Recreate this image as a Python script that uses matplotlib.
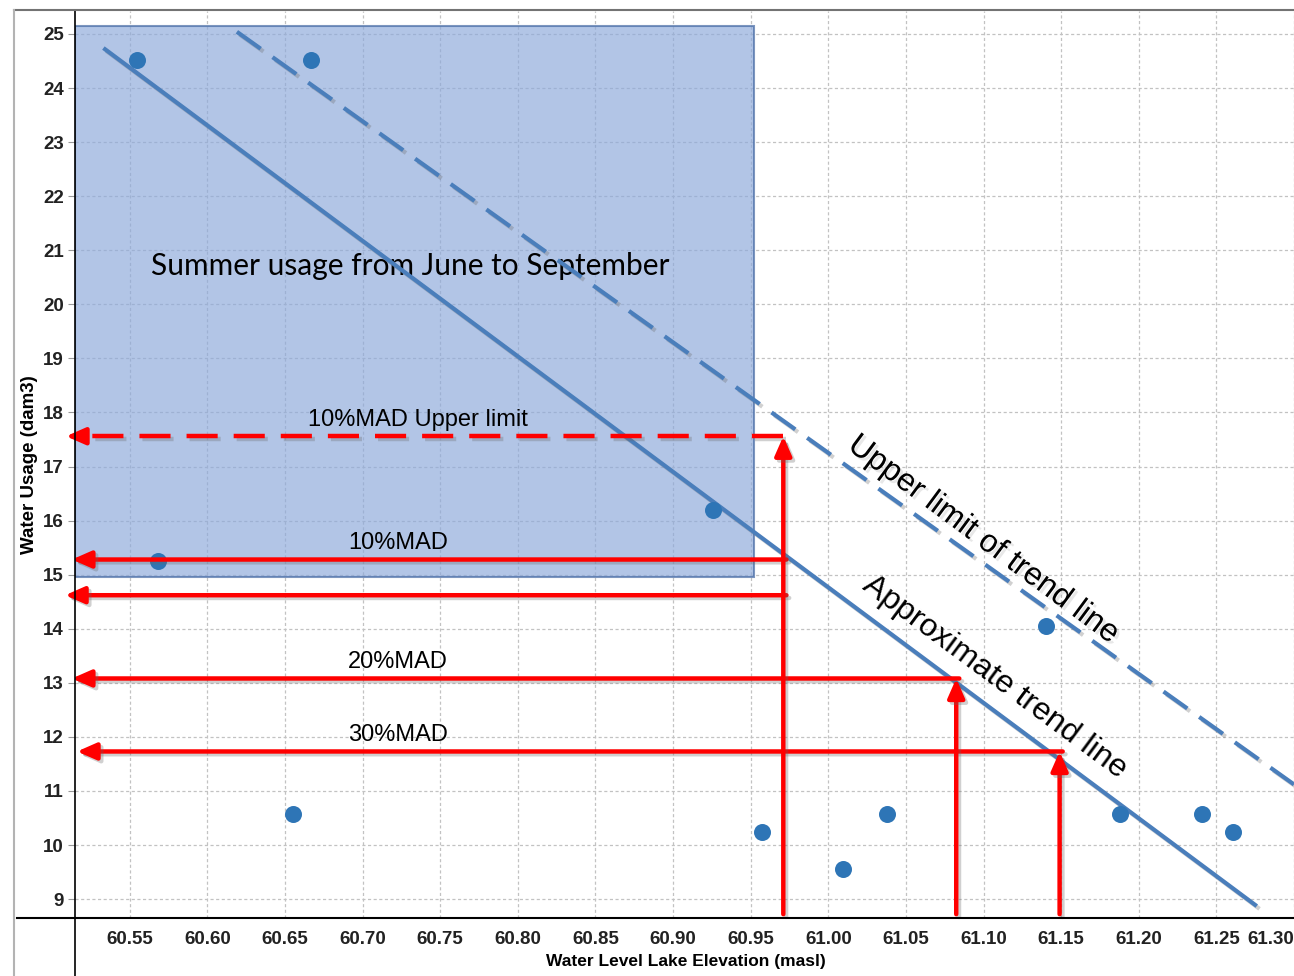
import numpy as np
import matplotlib
matplotlib.use("Agg")
import matplotlib.pyplot as plt
import matplotlib.patheffects as pe
from matplotlib.lines import Line2D
from matplotlib.patches import Rectangle

# ---- data ----
elev  = [60.5545, 60.667, 60.9255, 60.568, 60.6554, 60.957, 61.0097, 61.038, 61.140, 61.188, 61.241, 61.261]
usage = [24.52, 24.52, 16.19, 15.25, 10.57, 10.24, 9.55, 10.57, 14.05, 10.57, 10.57, 10.24]
trend_x, trend_y = [60.533, 61.276], [24.74, 8.87]          # approximate trend line
upper_x, upper_y = [60.619, 61.30], [25.04, 11.12]          # upper limit of trend line
summer_x, summer_y = [60.5147, 60.952], [14.95, 25.15]      # June-September box
mad_labels = ["10%MAD Upper limit", "10%MAD", "", "20%MAD", "30%MAD"]
mad_usage  = [17.56, 15.28, 14.62, 13.08, 11.73]
mad_elev   = [60.971, 60.971, 60.971, 61.0824, 61.149]
mad_tip    = [60.5089, 60.5127, 60.5083, 60.5127, 60.5160]
xticks = [60.55, 60.60, 60.65, 60.70, 60.75, 60.80, 60.85, 60.90, 60.95, 61.00,
          61.05, 61.10, 61.15, 61.20, 61.25, 61.30]
yticks = list(range(9, 26))

BLUE = "#4a7ebb"; DOT = "#2e75b6"; RED = "#ff0000"
ARIAL = ["Liberation Sans", "DejaVu Sans"]
shadow = [pe.SimpleLineShadow(offset=(2, -2), shadow_color="0.4", alpha=0.3), pe.Normal()]

fig = plt.figure(figsize=(12.94, 9.76), dpi=100)
ax = fig.add_axes([75/1294, 58/976, 1 - 75/1294, (918 - 11)/976])
ax.set_xlim(60.5147, 61.298); ax.set_ylim(8.65, 25.425)

ax.set_xticks(xticks); ax.set_yticks(yticks)
ax.set_xticklabels([f"{v:.2f}" for v in xticks], fontsize=13.5, fontweight="bold", color="#222222", family=ARIAL)
ax.set_yticklabels([str(v) for v in yticks], fontsize=13.5, fontweight="bold", color="#222222", family=ARIAL)
ax.get_xticklabels()[-1].set_horizontalalignment("right")
ax.tick_params(axis="x", length=0, pad=9)
ax.tick_params(axis="y", length=5, color="0.6", pad=3)
ax.grid(True, ls=(0, (2.5, 2)), color="0.76", lw=0.9, zorder=0)
for s in ax.spines.values():
    s.set_visible(False)
ax.set_axisbelow(True)

ax.set_xlabel("Water Level Lake Elevation (masl)", fontsize=12.5, fontweight="bold", family=ARIAL)
ax.set_ylabel("Water Usage (dam3)", fontsize=13.5, fontweight="bold", family=ARIAL)
ax.xaxis.set_label_coords(0.501, -0.040)
ax.yaxis.set_label_coords(-0.030, 0.4995)

# summer box
ax.add_patch(Rectangle((summer_x[0], summer_y[0]), summer_x[1] - summer_x[0], summer_y[1] - summer_y[0],
                       facecolor="#8eaadb", alpha=0.68, edgecolor="#3f64a0", lw=1.5, zorder=1))
ax.text(60.7306, 20.70, "Summer usage from June to September", fontsize=21.5, family=["Lato", "DejaVu Sans"],
        ha="center", va="center", color="black", zorder=2)

# trend lines
ax.plot(trend_x, trend_y, color=BLUE, lw=3, solid_capstyle="butt", zorder=4, path_effects=shadow)
ax.plot(upper_x, upper_y, color=BLUE, lw=3, ls=(0, (7, 3.5)), zorder=4, path_effects=shadow)

ax.scatter(elev, usage, s=150, color=DOT, zorder=5, lw=0)

# MAD arrows
arr = dict(arrowstyle="-|>,head_length=0.82,head_width=0.36", color=RED, lw=3.2,
           mutation_scale=14, shrinkA=0, shrinkB=0)
bottom = 8.72
for i, (lab, yv, xv, tip) in enumerate(zip(mad_labels, mad_usage, mad_elev, mad_tip)):
    if i == 0:
        ax.plot([xv, tip + 0.008], [yv, yv], color=RED, lw=3.2, ls=(0, (7, 3.6)), zorder=6,
                solid_capstyle="butt", path_effects=shadow, clip_on=False)
        ax.annotate("", xy=(tip, yv), xytext=(tip + 0.009, yv), arrowprops=arr,
                    annotation_clip=False, zorder=6)
    else:
        a = ax.annotate("", xy=(tip, yv), xytext=(xv + 0.002, yv), arrowprops=arr,
                        annotation_clip=False, zorder=6)
        a.arrow_patch.set_path_effects(shadow)
    if lab:
        ax.text(60.7357 if i == 0 else 60.7229, yv + 0.30, lab, fontsize=17,
                family=ARIAL, ha="center", va="center", zorder=7)

for xv in sorted(set(mad_elev)):
    yv = max(u for u, e in zip(mad_usage, mad_elev) if e == xv)
    a = ax.annotate("", xy=(xv, yv), xytext=(xv, bottom), arrowprops=arr, zorder=6)
    a.arrow_patch.set_path_effects(shadow)

txt_fx = [pe.SimplePatchShadow(offset=(2, -2), shadow_rgbFace="0.5", alpha=0.18), pe.Normal()]
ax.text(61.100, 15.64, "Upper limit of trend line", fontsize=23, rotation=-36.5, rotation_mode="anchor",
        family=ARIAL, ha="center", va="center", zorder=7, path_effects=txt_fx)
ax.text(61.107, 13.10, "Approximate trend line", fontsize=23, rotation=-36.5, rotation_mode="anchor",
        family=ARIAL, ha="center", va="center", zorder=7)

# frame lines like the screenshot
fig.add_artist(Line2D([75/1294, 75/1294], [0, (976 - 11)/976], color="black", lw=1.2))
fig.add_artist(Line2D([17/1294, 1], [58/976, 58/976], color="black", lw=1.5))
fig.add_artist(Line2D([14/1294, 1], [(976 - 10)/976, (976 - 10)/976], color="0.45", lw=1.5))
fig.add_artist(Line2D([14/1294, 14/1294], [0, (976 - 10)/976], color="0.7", lw=1.5))

fig.savefig("out.png", dpi=100)
